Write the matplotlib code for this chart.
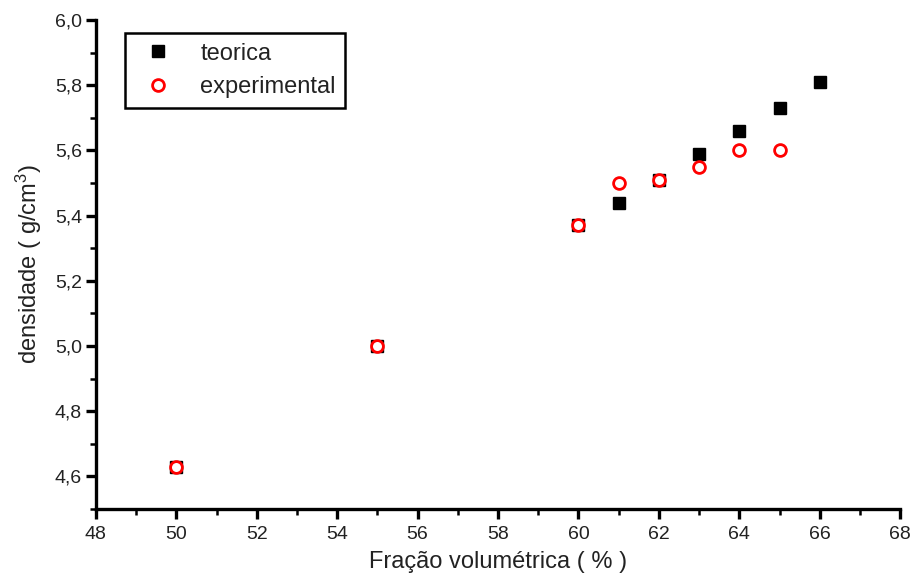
"""Densidade teórica vs. experimental em função da fração volumétrica."""

import matplotlib
matplotlib.use("Agg")
import matplotlib.pyplot as plt
import matplotlib.ticker as ticker

plt.rcParams["font.family"] = ["Liberation Sans", "DejaVu Sans"]
plt.rcParams["mathtext.fontset"] = "custom"
plt.rcParams["mathtext.rm"] = "Liberation Sans"
plt.rcParams["mathtext.it"] = "Liberation Sans:italic"

# ---------------------------------------------------------------------------
# Data
# ---------------------------------------------------------------------------
frac_teo = [50, 55, 60, 61, 62, 63, 64, 65, 66]
dens_teo = [4.63, 5.00, 5.37, 5.44, 5.51, 5.59, 5.66, 5.73, 5.81]

frac_exp = [50, 55, 60, 61, 62, 63, 64, 65]
dens_exp = [4.63, 5.00, 5.37, 5.50, 5.51, 5.55, 5.60, 5.60]

TEXT_COLOR = "#222222"

# ---------------------------------------------------------------------------
# Plot
# ---------------------------------------------------------------------------
fig = plt.figure(figsize=(9.13, 5.87), dpi=100)
ax = fig.add_axes([0.105, 0.133, 0.881, 0.833])

ax.plot(frac_teo, dens_teo, ls="none", marker="s", ms=9,
        mfc="black", mec="black", label="teorica", zorder=3)
ax.plot(frac_exp, dens_exp, ls="none", marker="o", ms=8.5, mew=2,
        mfc="white", mec="red", label="experimental", zorder=4)

ax.set_xlim(48, 68)
ax.set_ylim(4.5, 6.0)

ax.xaxis.set_major_locator(ticker.MultipleLocator(2))
ax.xaxis.set_minor_locator(ticker.MultipleLocator(1))
ax.yaxis.set_major_locator(ticker.MultipleLocator(0.2))
ax.yaxis.set_minor_locator(ticker.MultipleLocator(0.1))
ax.yaxis.set_major_formatter(
    ticker.FuncFormatter(lambda v, _: f"{v:.1f}".replace(".", ","))
)

for side in ("top", "right"):
    ax.spines[side].set_visible(False)
for side in ("left", "bottom"):
    ax.spines[side].set_linewidth(2.4)

ax.tick_params(which="major", direction="out", length=7, width=2.4,
               labelsize=14, labelcolor=TEXT_COLOR)
ax.tick_params(which="minor", direction="out", length=4, width=1.8)
ax.tick_params(axis="y", which="major", pad=3)
ax.tick_params(axis="x", which="major", pad=5)

ax.set_xlabel("Fração volumétrica ( % )", fontsize=17, color=TEXT_COLOR,
              labelpad=6)
ax.set_ylabel("densidade ( g/cm$^3$)", fontsize=17, color=TEXT_COLOR,
              labelpad=8)

leg = ax.legend(loc="upper left", bbox_to_anchor=(0.036, 0.973),
                borderaxespad=0, fontsize=17, fancybox=False,
                edgecolor="black", framealpha=1, numpoints=1)
leg.get_frame().set_linewidth(1.8)
for txt in leg.get_texts():
    txt.set_color(TEXT_COLOR)

fig.savefig("out.png", dpi=100)
